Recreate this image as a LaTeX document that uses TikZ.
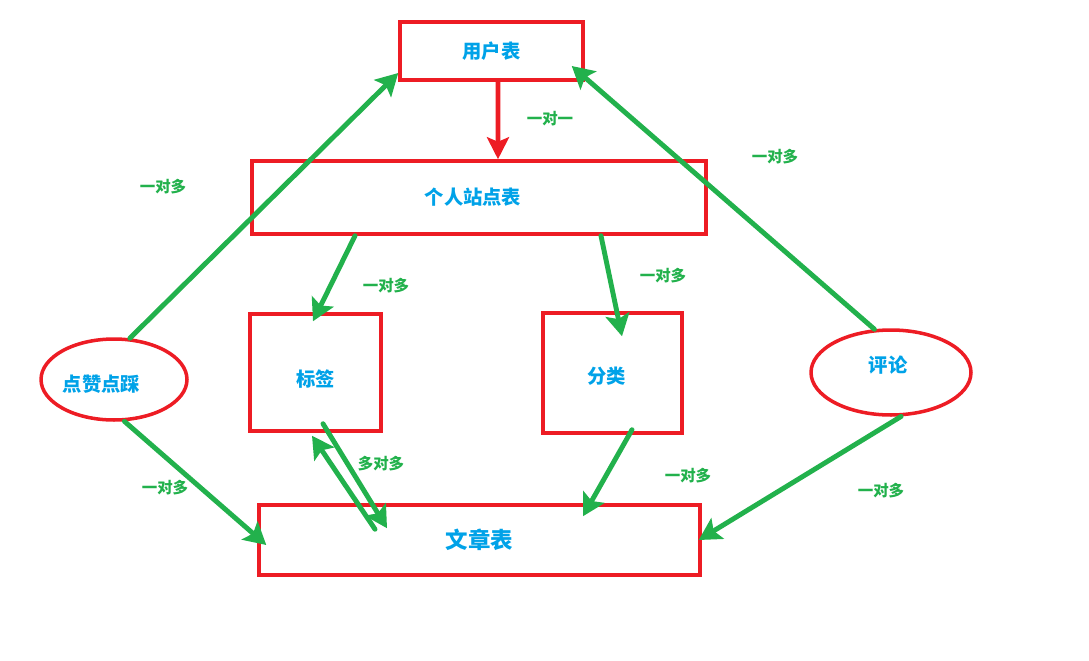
\documentclass[tikz,border=0pt]{standalone}
\usepackage{fontspec}
\setmainfont{Noto Sans CJK SC}
\usepackage{tikz}
\usetikzlibrary{shapes.geometric, arrows.meta, positioning, calc}
\definecolor{boxred}{HTML}{ED1C24}
\definecolor{linkgreen}{HTML}{22B14C}
\definecolor{textblue}{HTML}{00A2E8}

\begin{document}
\begin{tikzpicture}[x=0.02cm, y=-0.02cm,
  table/.style={rectangle, draw=boxred, line width=2pt, inner sep=0pt, align=center, text=textblue, font=\fontsize{11}{13}\selectfont\bfseries},
  entity/.style={ellipse, draw=boxred, line width=2pt, inner sep=0pt, text=textblue, font=\fontsize{11}{13}\selectfont\bfseries},
  link/.style={-{Stealth[length=4.4mm, width=4.8mm, inset=0.9mm]}, line width=2.8pt, draw=linkgreen, line cap=round},
  rel/.style={text=linkgreen, font=\fontsize{8.8}{10}\selectfont\bfseries}
]
  \useasboundingbox (0,0) rectangle (1089,660);

  \node[table, minimum width=3.66cm, minimum height=1.16cm] (users) at (491.5,51) {用户表};
  \node[table, minimum width=9.08cm, minimum height=1.46cm] (site) at (479,197.5) {\hspace*{-0.24cm}个人站点表};
  \node[table, minimum width=2.62cm, minimum height=2.34cm] (tag) at (315.5,372.5) {\raisebox{-0.14cm}[\height][\depth]{标签}};
  \node[table, minimum width=2.78cm, minimum height=2.4cm] (cat) at (612.5,373) {\hspace*{-0.24cm}\raisebox{-0.06cm}[\height][\depth]{分类}};
  \node[table, minimum width=8.82cm, minimum height=1.4cm, font=\fontsize{12.8}{15}\selectfont\bfseries] (article) at (479.5,540) {文章表};
  \node[entity, minimum width=2.92cm, minimum height=1.62cm] (like) at (114,379.5) {\hspace*{-0.5cm}\raisebox{-0.1cm}[\height][\depth]{点赞点踩}};
  \node[entity, minimum width=3.2cm, minimum height=1.7cm] (comment) at (891,372.5) {\hspace*{-0.12cm}\raisebox{0.14cm}[\height][\depth]{评论}};

  \draw[link, draw=boxred, -{Stealth[length=4.4mm, width=4.4mm, inset=0.9mm]}] ([xshift=0.13cm]users.south) -- ([xshift=0.38cm]site.north);
  \draw[link] (like.69) -- ([yshift=-0.44cm]users.west);
  \draw[link] (like.-76) -- ([xshift=0.18cm, yshift=-0.1cm]article.west);
  \draw[link] (comment.111) -- ([xshift=-0.26cm, yshift=-0.3cm]users.east);
  \draw[link] (comment.-77) -- ([xshift=-0.06cm]article.east);
  \draw[link] ([xshift=-2.48cm]site.south) -- ([xshift=-0.05cm, yshift=-0.18cm]tag.north);
  \draw[link] ([xshift=2.44cm]site.south) -- ([xshift=0.19cm, yshift=-0.5cm]cat.north);
  \draw[link] ([xshift=0.39cm, yshift=0.1cm]cat.south) -- ([xshift=2.07cm, yshift=-0.26cm]article.north);
  \draw[link] ([xshift=0.15cm, yshift=0.18cm]tag.south) -- ([xshift=-1.85cm, yshift=-0.5cm]article.north);
  \draw[link] ([xshift=-2.09cm, yshift=-0.52cm]article.north) -- ([xshift=-0.07cm, yshift=-0.06cm]tag.south);

  \node[rel] (r1) at (550,119) {一对一};
  \node[rel] (r2) at (163,187) {一对多};
  \node[rel] (r3) at (775,157) {一对多};
  \node[rel] (r4) at (386,286) {一对多};
  \node[rel] (r5) at (663,276) {一对多};
  \node[rel] (r6) at (381,464) {多对多};
  \node[rel] (r7) at (165,488) {一对多};
  \node[rel] (r8) at (688,476) {一对多};
  \node[rel] (r9) at (881,491) {一对多};
\end{tikzpicture}
\end{document}
